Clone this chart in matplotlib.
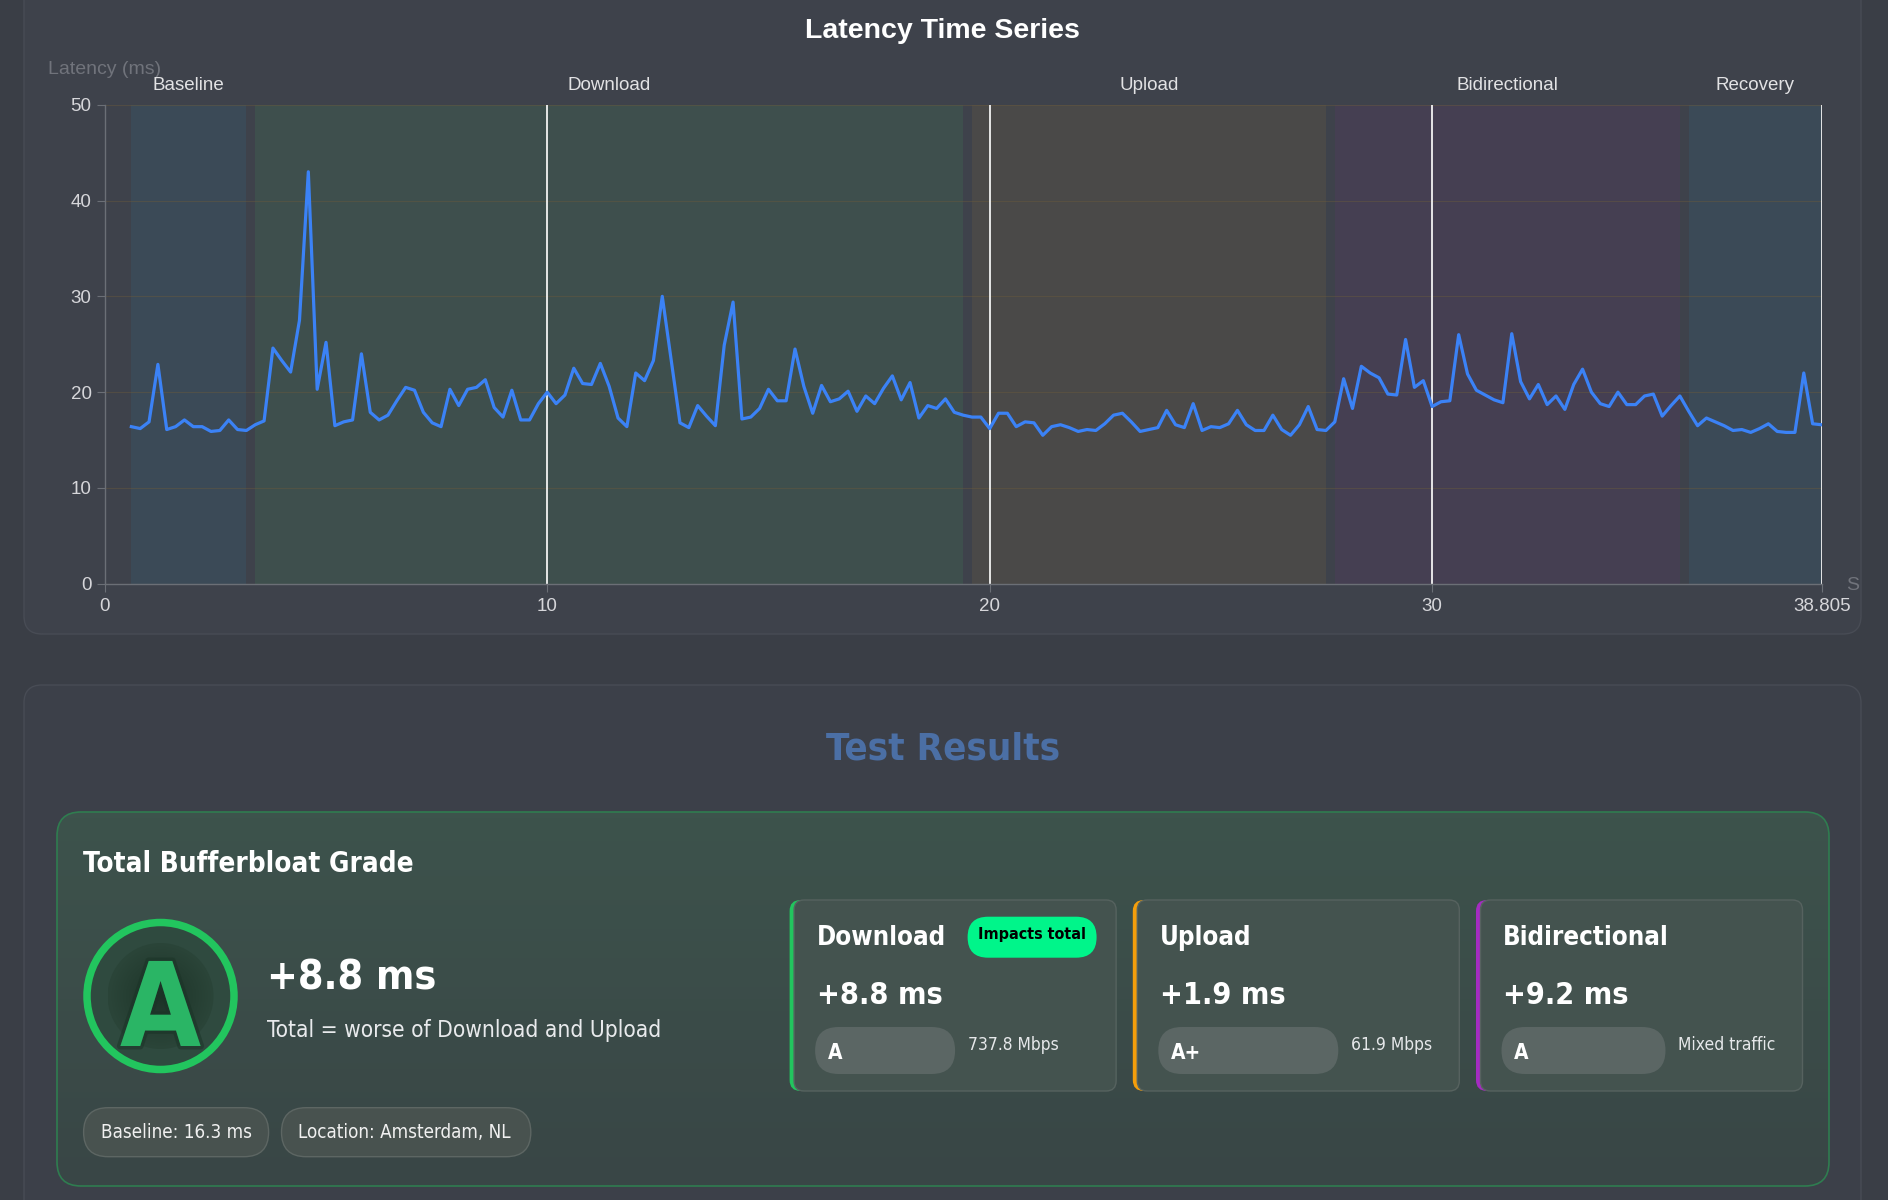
import numpy as np
import matplotlib

matplotlib.use("Agg")
import matplotlib.pyplot as plt
from matplotlib.patches import FancyBboxPatch, Circle
from matplotlib.transforms import blended_transform_factory, Bbox
import matplotlib.patheffects as pe

# --- data -----------------------------------------------------------------
sample_times = [
    0.6, 0.8, 1.0, 1.2, 1.4, 1.6, 1.8, 2.0, 2.2, 2.4,
    2.6, 2.8, 3.0, 3.2, 3.4, 3.6, 3.8, 4.0, 4.2, 4.4,
    4.6, 4.8, 5.0, 5.2, 5.4, 5.6, 5.8, 6.0, 6.2, 6.4,
    6.6, 6.8, 7.0, 7.2, 7.4, 7.6, 7.8, 8.0, 8.2, 8.4,
    8.6, 8.8, 9.0, 9.2, 9.4, 9.6, 9.8, 10.0, 10.2, 10.4,
    10.6, 10.8, 11.0, 11.2, 11.4, 11.6, 11.8, 12.0, 12.2, 12.4,
    12.6,
    13.0, 13.2, 13.4, 13.6, 13.8, 14.0, 14.2, 14.4, 14.6, 14.8,
    15.0, 15.2, 15.4, 15.6, 15.8, 16.0, 16.2, 16.4, 16.6, 16.8,
    17.0, 17.2, 17.4, 17.6, 17.8, 18.0, 18.2, 18.4, 18.6, 18.8,
    19.0, 19.2, 19.4, 19.6, 19.8, 20.0, 20.2, 20.4, 20.6, 20.8,
    21.0, 21.2, 21.4, 21.6, 21.8, 22.0, 22.2, 22.4, 22.6, 22.8,
    23.0, 23.2, 23.4, 23.6, 23.8, 24.0, 24.2, 24.4, 24.6, 24.8,
    25.0, 25.2, 25.4, 25.6, 25.8, 26.0, 26.2, 26.4, 26.6, 26.8,
    27.0, 27.2, 27.4, 27.6, 27.8, 28.0, 28.2, 28.4, 28.6, 28.8,
    29.0, 29.2, 29.4, 29.6, 29.8, 30.0, 30.2, 30.4, 30.6, 30.8,
    31.0, 31.2, 31.4, 31.6, 31.8, 32.0, 32.2, 32.4, 32.6, 32.8,
    33.0, 33.2, 33.4, 33.6, 33.8, 34.0, 34.2, 34.4, 34.6, 34.8,
    35.0, 35.2, 35.4, 35.6, 35.8, 36.0, 36.2, 36.4, 36.6, 36.8,
    37.0, 37.2, 37.4, 37.6, 37.8, 38.0, 38.2, 38.4, 38.6, 38.8,
]
latency_ms = [
    16.4, 16.2, 16.9, 22.9, 16.1, 16.4, 17.1, 16.4, 16.4, 15.9,
    16.0, 17.1, 16.1, 16.0, 16.6, 17.0, 24.6, 23.3, 22.1, 27.5,
    43.0, 20.3, 25.2, 16.5, 16.9, 17.1, 24.0, 17.9, 17.1, 17.6,
    19.1, 20.5, 20.2, 17.9, 16.8, 16.4, 20.3, 18.6, 20.3, 20.5,
    21.3, 18.4, 17.4, 20.2, 17.1, 17.1, 18.8, 20.0, 18.8, 19.7,
    22.5, 20.9, 20.8, 23.0, 20.6, 17.3, 16.4, 22.0, 21.2, 23.3,
    30.0,
    16.8, 16.3, 18.6, 17.5, 16.5, 24.9, 29.4, 17.2, 17.4, 18.3,
    20.3, 19.1, 19.1, 24.5, 20.6, 17.8, 20.7, 19.0, 19.3, 20.1,
    18.0, 19.6, 18.8, 20.4, 21.7, 19.2, 21.0, 17.3, 18.6, 18.3,
    19.3, 17.9, 17.6, 17.4, 17.4, 16.2, 17.8, 17.8, 16.4, 16.9,
    16.8, 15.5, 16.4, 16.6, 16.3, 15.9, 16.1, 16.0, 16.7, 17.6,
    17.8, 16.9, 15.9, 16.1, 16.3, 18.1, 16.6, 16.3, 18.8, 16.0,
    16.4, 16.3, 16.7, 18.1, 16.6, 16.0, 16.0, 17.6, 16.1, 15.5,
    16.6, 18.5, 16.1, 16.0, 16.9, 21.4, 18.3, 22.7, 22.0, 21.5,
    19.8, 19.7, 25.5, 20.5, 21.2, 18.5, 19.0, 19.1, 26.0, 21.9,
    20.2, 19.7, 19.2, 18.9, 26.1, 21.1, 19.3, 20.8, 18.7, 19.6,
    18.2, 20.8, 22.4, 20.0, 18.8, 18.5, 20.0, 18.7, 18.7, 19.6,
    19.8, 17.5, 18.6, 19.6, 18.0, 16.5, 17.3, 16.9, 16.5, 16.0,
    16.1, 15.8, 16.2, 16.7, 15.9, 15.8, 15.8, 22.0, 16.7, 16.6,
]

phase_names = ["Baseline", "Download", "Upload", "Bidirectional", "Recovery"]
phase_starts = [0.6, 3.4, 19.6, 27.8, 35.8]
phase_ends = [3.2, 19.4, 27.6, 35.6, 38.805]
phase_colors = ["#3b4a57", "#3e4f4d", "#4a4948", "#453f52", "#3b4a57"]

x_max = 38.805
x_ticks = [0, 10, 20, 30, 38.805]
x_tick_labels = ["0", "10", "20", "30", "38.805"]
y_ticks = [0, 10, 20, 30, 40, 50]

total_grade = "A"
total_delta = "+8.8 ms"
total_note = "Total = worse of Download and Upload"
info_pills = ["Baseline: 16.3 ms", "Location: Amsterdam, NL"]

card_titles = ["Download", "Upload", "Bidirectional"]
card_deltas = ["+8.8 ms", "+1.9 ms", "+9.2 ms"]
card_grades = ["A", "A+", "A"]
card_notes = ["737.8 Mbps", "61.9 Mbps", "Mixed traffic"]
card_accents = ["#22c55e", "#f59e0b", "#a52bc2"]

# --- styling --------------------------------------------------------------
PAGE_BG = "#3a3e46"
CARD_BG = "#3e424b"
CARD_EDGE = "#484c55"
CHART_FONT = ["Liberation Sans", "DejaVu Sans"]
UI_FONT = ["DejaVu Sans Condensed", "DejaVu Sans"]
UI = dict(family=UI_FONT, fontstretch="condensed")

fig = plt.figure(figsize=(18.88, 12), dpi=100, facecolor=PAGE_BG)
bg = fig.add_axes([0, 0, 1, 1])
bg.set_axis_off()


def rbox(x, y, w, h, r, fc, ec="none", lw=0.0, z=1):
    p = FancyBboxPatch((x, y), w, h, boxstyle=f"round,pad=0,rounding_size={r}",
                       fc=fc, ec=ec, lw=lw, zorder=z)
    bg.add_patch(p)
    return p


# cards
top_card = rbox(24, -30, 1837, 664, 18, CARD_BG, CARD_EDGE, 1.0)
rbox(24, 685, 1837, 560, 18, "#3c4049", CARD_EDGE, 1.0)

# chart title + axis captions
bg.text(942, 31, "Latency Time Series", ha="center", va="center", fontsize=20.5,
        fontweight="bold", color="white", family=CHART_FONT)
bg.text(48, 70, "Latency (ms)", ha="left", va="center", fontsize=14,
        color="#70737b", family=CHART_FONT)
# the x-axis caption is cut by the card edge, as in the page
sec = bg.text(1846, 586, "Seconds", ha="left", va="center", fontsize=14,
              color="#70737b", family=CHART_FONT)
sec.set_clip_box(Bbox.from_extents(0, 0, 1860, 1200))
sec.set_clip_on(True)

# --- latency chart ----------------------------------------------------------
ax = fig.add_axes([104.8 / 1888, 1 - 583.8 / 1200, (1821.7 - 104.8) / 1888, (583.8 - 104.7) / 1200])
ax.set_facecolor("none")
ax.set_xlim(0, x_max)
ax.set_ylim(0, 50)

for name, s, e, c in zip(phase_names, phase_starts, phase_ends, phase_colors):
    ax.axvspan(s, e, color=c, lw=0, zorder=1)

ax.set_yticks(y_ticks)
ax.yaxis.grid(True, color="#6a5a3c", alpha=0.45, lw=0.8)
for xt in x_ticks[1:]:
    ax.axvline(xt, color="#f2f2f2", lw=1.3, zorder=2)

ax.plot(sample_times, latency_ms, color="#3b82f6", lw=2.3, zorder=3,
        solid_joinstyle="round")

ax.set_xticks(x_ticks)
ax.set_xticklabels(x_tick_labels)
for sp in ["top", "right"]:
    ax.spines[sp].set_visible(False)
for sp in ["left", "bottom"]:
    ax.spines[sp].set_color("#6b6f76")
    ax.spines[sp].set_linewidth(1.0)
ax.tick_params(length=6, width=0.8, color="#6b6f76", labelcolor="#d6d6da",
               labelsize=13.5)
ax.tick_params(axis="y", pad=3.5)
ax.tick_params(axis="x", pad=4)
for lab in ax.get_xticklabels() + ax.get_yticklabels():
    lab.set_family(CHART_FONT)

# phase labels above the plot
lbl_tr = blended_transform_factory(ax.transData, bg.transData)
for name, s, e in zip(phase_names, phase_starts, phase_ends):
    bg.text((s + e) / 2, 86, name, transform=lbl_tr, ha="center", va="center",
            fontsize=13.5, color="#e2e2e4", family=CHART_FONT)

# --- test results -----------------------------------------------------------
bg.text(943, 749, "Test Results", ha="center", va="center", fontsize=27.5,
        fontweight="bold", color="#4b6fa5", **UI)

green = rbox(57, 812, 1772, 374, 24, "none", "#2f7d50", 1.2, z=3)
grad = np.linspace(0, 1, 64)[:, None, None]
top_c = np.array([0x3d, 0x53, 0x4c]) / 255
bot_c = np.array([0x39, 0x46, 0x46]) / 255
img = top_c * (1 - grad) + bot_c * grad
im = bg.imshow(img, extent=(57, 1829, 1186, 812), origin="upper", aspect="auto", zorder=2)
im.set_clip_path(green)

bg.text(83, 864, "Total Bufferbloat Grade", ha="left", va="center", fontsize=20,
        fontweight="bold", color="white", zorder=5, **UI)

# grade badge
cx, cy = 160.5, 996
bg.add_patch(Circle((cx, cy), 73.5, fc="#2f4a3f", ec="none", zorder=4))
inner = Circle((cx, cy), 53, fc="none", ec="none", zorder=5)
bg.add_patch(inner)
yy, xx = np.mgrid[-1:1:160j, -1:1:160j]
rr = np.clip(np.sqrt(xx ** 2 + yy ** 2), 0, 1)[..., None]
c_in = np.array([0x1c, 0x33, 0x27]) / 255
c_out = np.array([0x2b, 0x45, 0x39]) / 255
rim = bg.imshow(c_in * (1 - rr) + c_out * rr, extent=(cx - 53, cx + 53, cy + 53, cy - 53),
                origin="upper", aspect="auto", zorder=5)
rim.set_clip_path(inner)
bg.add_patch(Circle((cx, cy), 73.5, fc="none", ec="#22c55e", lw=5.4, zorder=6))
bg.text(cx, 1046, total_grade, ha="center", va="baseline", fontsize=84,
        fontweight="bold", color="#2ab565", zorder=7,
        path_effects=[pe.withStroke(linewidth=5, foreground="#1a3326", alpha=0.5)], **UI)

bg.text(267, 978, total_delta, ha="left", va="center", fontsize=29.5,
        fontweight="bold", color="white", zorder=5, **UI)
bg.text(267, 1030, total_note, ha="left", va="center", fontsize=16.3,
        color="#e8eaec", zorder=5, **UI)

# info pills
pill_x = [83.6, 281.5]
pill_w = [185, 249.3]
for label, px, pw in zip(info_pills, pill_x, pill_w):
    rbox(px, 1107.7, pw, 49, 24.5, "#48524f", "#5d6663", 1.0, z=4)
    bg.text(px + 17, 1133, label, ha="left", va="center", fontsize=13.5,
            color="#f0f0f0", zorder=5, **UI)

# per-direction cards
grade_pill_w = [140, 180, 164]
for i, (title, delta, grade, note, accent) in enumerate(
        zip(card_titles, card_deltas, card_grades, card_notes, card_accents)):
    x0 = 789.6 + i * 343.2
    rbox(x0, 900, 326.5, 191, 11, accent, z=4)
    rbox(x0 + 4.5, 900, 322, 191, 10, "#44534f", "#56625f", 1.0, z=5)
    tx = x0 + 27
    bg.text(tx, 938, title, ha="left", va="center", fontsize=18.5,
            fontweight="bold", color="white", zorder=6, **UI)
    bg.text(tx, 995, delta, ha="left", va="center", fontsize=22,
            fontweight="bold", color="white", zorder=6, **UI)
    pw = grade_pill_w[i]
    rbox(tx - 1.5, 1027, pw, 47, 23.5, "#5b6664", z=6)
    bg.text(tx + 11, 1053, grade, ha="left", va="center", fontsize=15,
            fontweight="bold", color="white", zorder=7, **UI)
    bg.text(tx - 1.5 + pw + 12.6, 1044.5, note, ha="left", va="center",
            fontsize=12.5, color="#e6e8ea", zorder=7, **UI)
    if i == 0:
        rbox(967.6, 916.7, 129, 41, 20.5, "#00f58a", z=6)
        bg.text(1032, 935, "Impacts total", ha="center", va="center",
                fontsize=11.5, fontweight="bold", color="black", zorder=7, **UI)

bg.set_xlim(0, 1888)
bg.set_ylim(1200, 0)

fig.savefig("out.png", dpi=100, facecolor=PAGE_BG)
